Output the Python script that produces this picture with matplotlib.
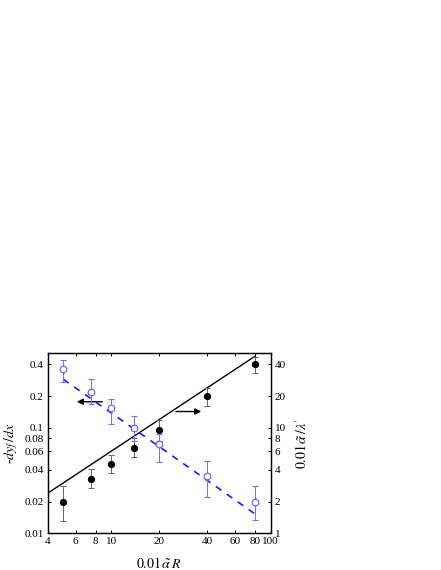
import numpy as np
import matplotlib
matplotlib.use("Agg")
import matplotlib.pyplot as plt
from matplotlib.ticker import FixedLocator, FixedFormatter, NullLocator

plt.rcParams['font.family'] = ['Liberation Serif', 'DejaVu Serif']
plt.rcParams['mathtext.fontset'] = 'stix'

# data
x_pts = [5, 7.5, 10, 14, 20, 40, 80]

# left axis: -dy_f/dx (filled black)
slope_val = [0.02, 0.033, 0.045, 0.065, 0.095, 0.2, 0.4]
slope_lo = [0.013, 0.027, 0.037, 0.053, 0.075, 0.16, 0.33]
slope_hi = [0.028, 0.041, 0.055, 0.080, 0.12, 0.24, 0.47]

# right axis: 0.01 alpha / lambda' (open blue)
ratio_val = [36, 22, 15.5, 10, 7, 3.5, 2]
ratio_lo = [27, 17, 11, 7.5, 4.7, 2.2, 1.35]
ratio_hi = [44, 29, 19, 13, 8.8, 4.9, 2.8]

# fitted lines
fit_black_x = [4, 80]
fit_black_y = [0.024, 0.48]
fit_blue_x = [5, 80]
fit_blue_y = [29, 1.52]

x_ticks = [4, 6, 8, 10, 20, 40, 60, 80, 100]
left_ticks = [0.01, 0.02, 0.04, 0.06, 0.08, 0.1, 0.2, 0.4]
left_labels = ['0.01', '0.02', '0.04', '0.06', '0.08', '0.1', '0.2', '0.4']
right_ticks = [1, 2, 4, 6, 8, 10, 20, 40]


fig = plt.figure(figsize=(4.41, 5.70), dpi=100)
ax = fig.add_axes([47.7 / 441, 1 - 533.3 / 570, 223 / 441, 180 / 570])
ax2 = ax.twinx()

ax.set_xscale('log')
ax.set_yscale('log')
ax2.set_yscale('log')
ax.set_xlim(4, 100)
ax.set_ylim(0.01, 0.51)
ax2.set_ylim(1, 51)

# black data and fit (left axis)
yerr_b = [np.array(slope_val) - np.array(slope_lo), np.array(slope_hi) - np.array(slope_val)]
ax.errorbar(x_pts, slope_val, yerr=yerr_b, fmt='o', color='black', ecolor='#666666',
            elinewidth=0.7, capsize=2, capthick=0.7, markersize=4.2, zorder=4)
ax.plot(fit_black_x, fit_black_y, color='black', linewidth=1.0, zorder=3)

# blue data and fit (right axis)
yerr_r = [np.array(ratio_val) - np.array(ratio_lo), np.array(ratio_hi) - np.array(ratio_val)]
ax2.errorbar(x_pts, ratio_val, yerr=yerr_r, fmt='o', mfc='white', mec='#5a5aff', mew=0.8,
             ecolor='#7070ff', elinewidth=0.7, capsize=2, capthick=0.7, markersize=4.8, zorder=4)
ax2.plot(fit_blue_x, fit_blue_y, color='#1a1aff', linewidth=1.2, linestyle=(0, (4, 4)), zorder=3)

# arrows pointing to the axes
ax.annotate('', xy=(5.85, 0.177), xytext=(9.15, 0.177),
            arrowprops=dict(arrowstyle='-|>', color='black', lw=1.0, mutation_scale=9))
ax.annotate('', xy=(38.2, 0.143), xytext=(24.5, 0.143),
            arrowprops=dict(arrowstyle='-|>', color='black', lw=1.0, mutation_scale=9))

for a in (ax, ax2):
    a.xaxis.set_major_locator(FixedLocator(x_ticks))
    a.xaxis.set_major_formatter(FixedFormatter([str(t) for t in x_ticks]))
    a.xaxis.set_minor_locator(NullLocator())
    a.yaxis.set_minor_locator(NullLocator())
    a.tick_params(which='major', direction='in', length=2.5, width=0.7, labelsize=8, pad=3)
    for s in a.spines.values():
        s.set_linewidth(0.9)

ax.tick_params(axis='x', top=True)
ax.yaxis.set_major_locator(FixedLocator(left_ticks))
ax.yaxis.set_major_formatter(FixedFormatter(left_labels))
ax2.yaxis.set_major_locator(FixedLocator(right_ticks))
ax2.yaxis.set_major_formatter(FixedFormatter([str(t) for t in right_ticks]))

ax.set_xlabel(r'$0.01\,\tilde{\alpha}\,R$', fontsize=10, labelpad=7)
ax.set_ylabel(r'-$dy_f\,/dx$', fontsize=10, labelpad=3)
ax2.set_ylabel(r"$0.01\,\tilde{\alpha}\,/\lambda'$", fontsize=10, labelpad=6)

fig.savefig('out.png', dpi=100)
